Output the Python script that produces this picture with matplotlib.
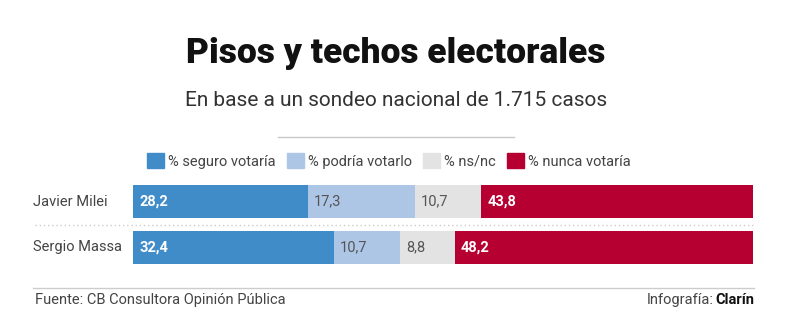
import matplotlib.pyplot as plt
from matplotlib.patches import Rectangle
from matplotlib.lines import Line2D

candidates = ["Javier Milei", "Sergio Massa"]
series = ["% seguro votaría", "% podría votarlo", "% ns/nc", "% nunca votaría"]
values = {
    "% seguro votaría": [28.2, 32.4],
    "% podría votarlo": [17.3, 10.7],
    "% ns/nc": [10.7, 8.8],
    "% nunca votaría": [43.8, 48.2],
}

COLORS = ["#3f8cc9", "#adc6e6", "#e3e3e3", "#b50031"]
LABEL_COLORS = ["white", "#555555", "#555555", "white"]
LABEL_WEIGHTS = ["bold", "normal", "normal", "bold"]
TEXT_GRAY = "#444444"
FONT = "Roboto"

W, H = 792, 331
plt.rcParams["font.family"] = [FONT, "DejaVu Sans"]

fig = plt.figure(figsize=(W / 100, H / 100), dpi=100, facecolor="white")


def fx(px):
    return px / W


def fy(py):
    return 1 - py / H


# header
fig.text(fx(396), fy(54), "Pisos y techos electorales", ha="center", va="center",
         fontsize=25.5, fontweight="black", color="#111111")
fig.text(fx(396), fy(101), "En base a un sondeo nacional de 1.715 casos", ha="center",
         va="center", fontsize=15, color="#333333")
fig.add_artist(Line2D([fx(278), fx(514)], [fy(137), fy(137)], color="#c8c8c8", lw=1))

# legend
handles = [Rectangle((0, 0), 1, 1, color=c) for c in COLORS]
fig.legend(handles, series, loc="center", bbox_to_anchor=(fx(389), fy(161)), ncol=4,
           frameon=False, fontsize=10.5, handlelength=1.15, handleheight=1.15,
           handletextpad=0.3, columnspacing=0.75, labelcolor=TEXT_GRAY)

# bars
ax = fig.add_axes([fx(133), fy(270.5), fx(620), 92 / H])
left = [0.0] * len(candidates)
for i, name in enumerate(series):
    vals = values[name]
    ax.barh(range(len(candidates)), vals, left=left, height=0.70, color=COLORS[i])
    for j, v in enumerate(vals):
        ax.text(left[j] + 1.0, j, f"{v:.1f}".replace(".", ","), ha="left", va="center",
                fontsize=10.5, color=LABEL_COLORS[i], fontweight=LABEL_WEIGHTS[i])
    left = [l + v for l, v in zip(left, vals)]

ax.set_xlim(0, 100)
ax.set_ylim(1.5, -0.5)
ax.axis("off")

for j, name in enumerate(candidates):
    ax.text(-16.2, j, name, ha="left", va="center", fontsize=10.5, color=TEXT_GRAY)

fig.add_artist(Line2D([fx(35), fx(753)], [fy(224.5), fy(224.5)], color="#cccccc",
                      lw=1, linestyle=(0, (1, 2))))

# footer
fig.add_artist(Line2D([fx(33), fx(754)], [fy(288), fy(288)], color="#cccccc", lw=1))
fig.text(fx(35), fy(300), "Fuente: CB Consultora Opinión Pública", ha="left", va="center",
         fontsize=10.5, color=TEXT_GRAY)
fig.text(fx(754), fy(300), "Clarín", ha="right", va="center", fontsize=10.5,
         fontweight="bold", color="#111111")
fig.text(fx(714), fy(300), "Infografía:", ha="right", va="center", fontsize=10.5,
         color=TEXT_GRAY)

fig.savefig("out.png", dpi=100, facecolor="white")
